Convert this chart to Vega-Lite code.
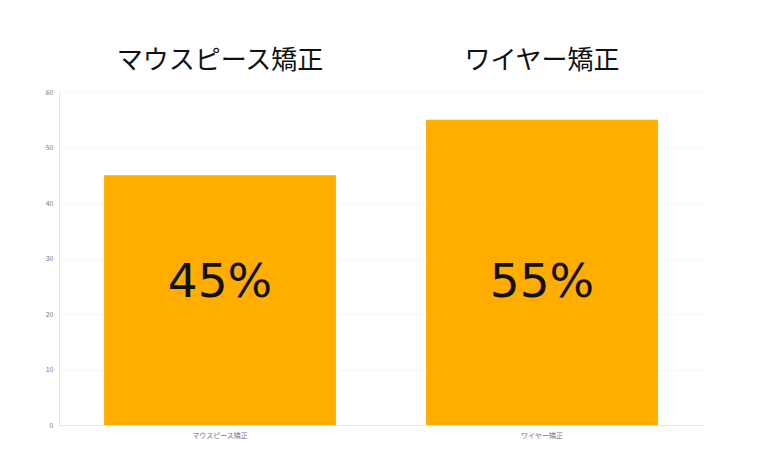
{
  "$schema": "https://vega.github.io/schema/vega-lite/v6.json",
  "width": 644,
  "height": 333,
  "autosize": "none",
  "padding": {"left": 59, "top": 92, "right": 57, "bottom": 41},
  "background": "white",
  "data": {"values": [
    {"type": "マウスピース矯正", "value": 45, "label": "45%"},
    {"type": "ワイヤー矯正", "value": 55, "label": "55%"}
  ]},
  "config": {
    "view": {"stroke": null},
    "font": "Noto Sans CJK JP"
  },
  "encoding": {
    "x": {
      "field": "type", "type": "nominal", "sort": null,
      "scale": {"paddingInner": 0.28, "paddingOuter": 0.14},
      "axis": {"title": null, "labelAngle": 0, "labelFontSize": 7, "labelColor": "#777", "domainColor": "#e6e6e6", "ticks": false, "labelPadding": 6}
    },
    "y": {
      "field": "value", "type": "quantitative",
      "scale": {"domain": [0, 60]},
      "axis": {"title": null, "values": [0,10,20,30,40,50,60], "labelOverlap": false, "labelFontSize": 7, "labelColor": "#777", "domainColor": "#e6e6e6", "ticks": false, "labelPadding": 6, "gridColor": "#ededed", "gridDash": [2, 2]}
    }
  },
  "layer": [
    {
      "mark": {"type": "bar", "color": "#FFAE00"}
    },
    {
      "mark": {"type": "text", "fontSize": 47, "font": "DejaVu Sans", "color": "#111", "baseline": "middle"},
      "encoding": {
        "y": {"datum": 25.5},
        "text": {"field": "label"}
      }
    },
    {
      "mark": {"type": "text", "fontSize": 26, "font": "Noto Sans CJK JP", "color": "#111", "baseline": "middle"},
      "encoding": {
        "y": {"datum": 65.5},
        "text": {"field": "type"}
      }
    }
  ]
}
